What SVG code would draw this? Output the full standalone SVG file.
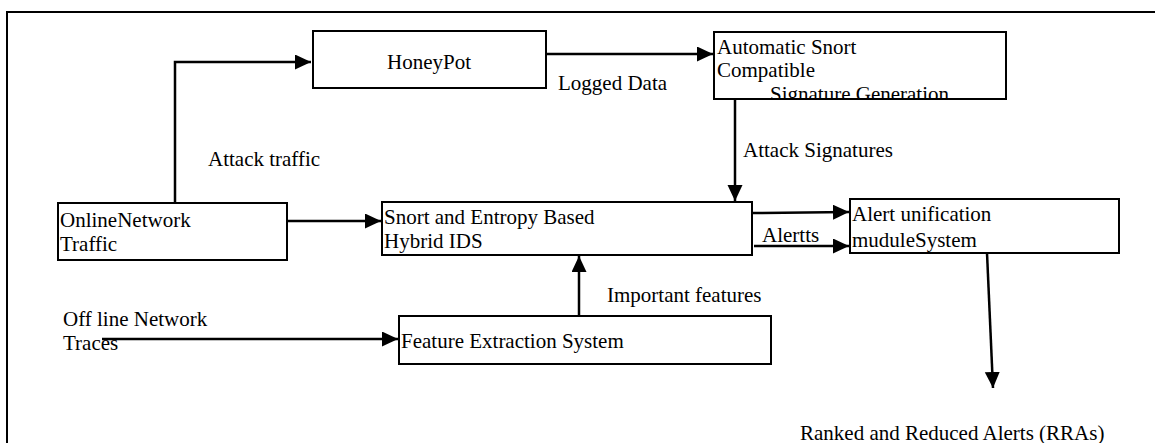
<svg xmlns="http://www.w3.org/2000/svg" width="1155" height="443" viewBox="0 0 1155 443">
<style>
  .box { fill: #fff; stroke: #000; stroke-width: 2; }
  .t { font-family: "Liberation Serif", "Times New Roman", serif; font-size: 21px; fill: #000; }
  .c { fill: none; stroke: #000; stroke-width: 2.5; }
  .frame { fill: none; stroke: #000; stroke-width: 2; }
</style>
<defs>
  <marker id="ah" markerUnits="userSpaceOnUse" markerWidth="17" markerHeight="16" refX="16" refY="7.5" orient="auto">
    <path d="M0,0 L16,7.5 L0,15 z" fill="#000"/>
  </marker>
  <clipPath id="clipAuto"><rect x="714" y="32" width="292" height="66"/></clipPath>
</defs>
<rect width="1155" height="443" fill="#fff"/>
<path class="frame" d="M7,443 L7,12 L1155,12"/>

<g id="honeypot">
  <rect class="box" x="313" y="31" width="233" height="57"/>
  <text class="t" x="387" y="69">HoneyPot</text>
</g>
<g id="auto-snort">
  <rect class="box" x="714" y="32" width="292" height="67"/>
  <g clip-path="url(#clipAuto)">
    <text class="t" x="717" y="54">Automatic Snort</text>
    <text class="t" x="717" y="77">Compatible</text>
    <text class="t" x="770" y="101">Signature Generation</text>
  </g>
</g>
<g id="online">
  <rect class="box" x="58" y="203" width="229" height="57"/>
  <text class="t" x="60" y="227">OnlineNetwork</text>
  <text class="t" x="60" y="251">Traffic</text>
</g>
<g id="hybrid-ids">
  <rect class="box" x="382" y="202" width="370" height="53"/>
  <text class="t" x="384" y="224">Snort and Entropy Based</text>
  <text class="t" x="384" y="248">Hybrid IDS</text>
</g>
<g id="alert-unification">
  <rect class="box" x="850" y="199" width="269" height="54"/>
  <text class="t" x="852" y="221">Alert unification</text>
  <text class="t" x="852" y="247">muduleSystem</text>
</g>
<g id="feature-extraction">
  <rect class="box" x="399" y="316" width="372" height="48"/>
  <text class="t" x="401" y="348">Feature Extraction System</text>
</g>
<g id="offline">
  <text class="t" x="63" y="326">Off line Network</text>
  <text class="t" x="63" y="350">Traces</text>
</g>
<g id="rras">
  <text class="t" x="800" y="440">Ranked and Reduced Alerts (RRAs)</text>
</g>

<g id="connectors">
  <path class="c" d="M175,203 L175,62 L311,62" marker-end="url(#ah)"/>
  <path class="c" d="M546,54 L713,54" marker-end="url(#ah)"/>
  <path class="c" d="M735,99 L735,201" marker-end="url(#ah)"/>
  <path class="c" d="M287,221 L381,221" marker-end="url(#ah)"/>
  <path class="c" d="M752,213 L849,212" marker-end="url(#ah)"/>
  <path class="c" d="M754,246 L849,246" marker-end="url(#ah)"/>
  <path class="c" d="M579,316 L579,256" marker-end="url(#ah)"/>
  <path class="c" d="M102,339 L398,339" marker-end="url(#ah)"/>
  <path class="c" d="M987,253 L993,388" marker-end="url(#ah)"/>
  <text class="t" x="208" y="166">Attack traffic</text>
  <text class="t" x="558" y="90">Logged Data</text>
  <text class="t" x="743" y="157">Attack Signatures</text>
  <text class="t" x="762" y="242">Alertts</text>
  <text class="t" x="607" y="302">Important features</text>
</g>
</svg>
